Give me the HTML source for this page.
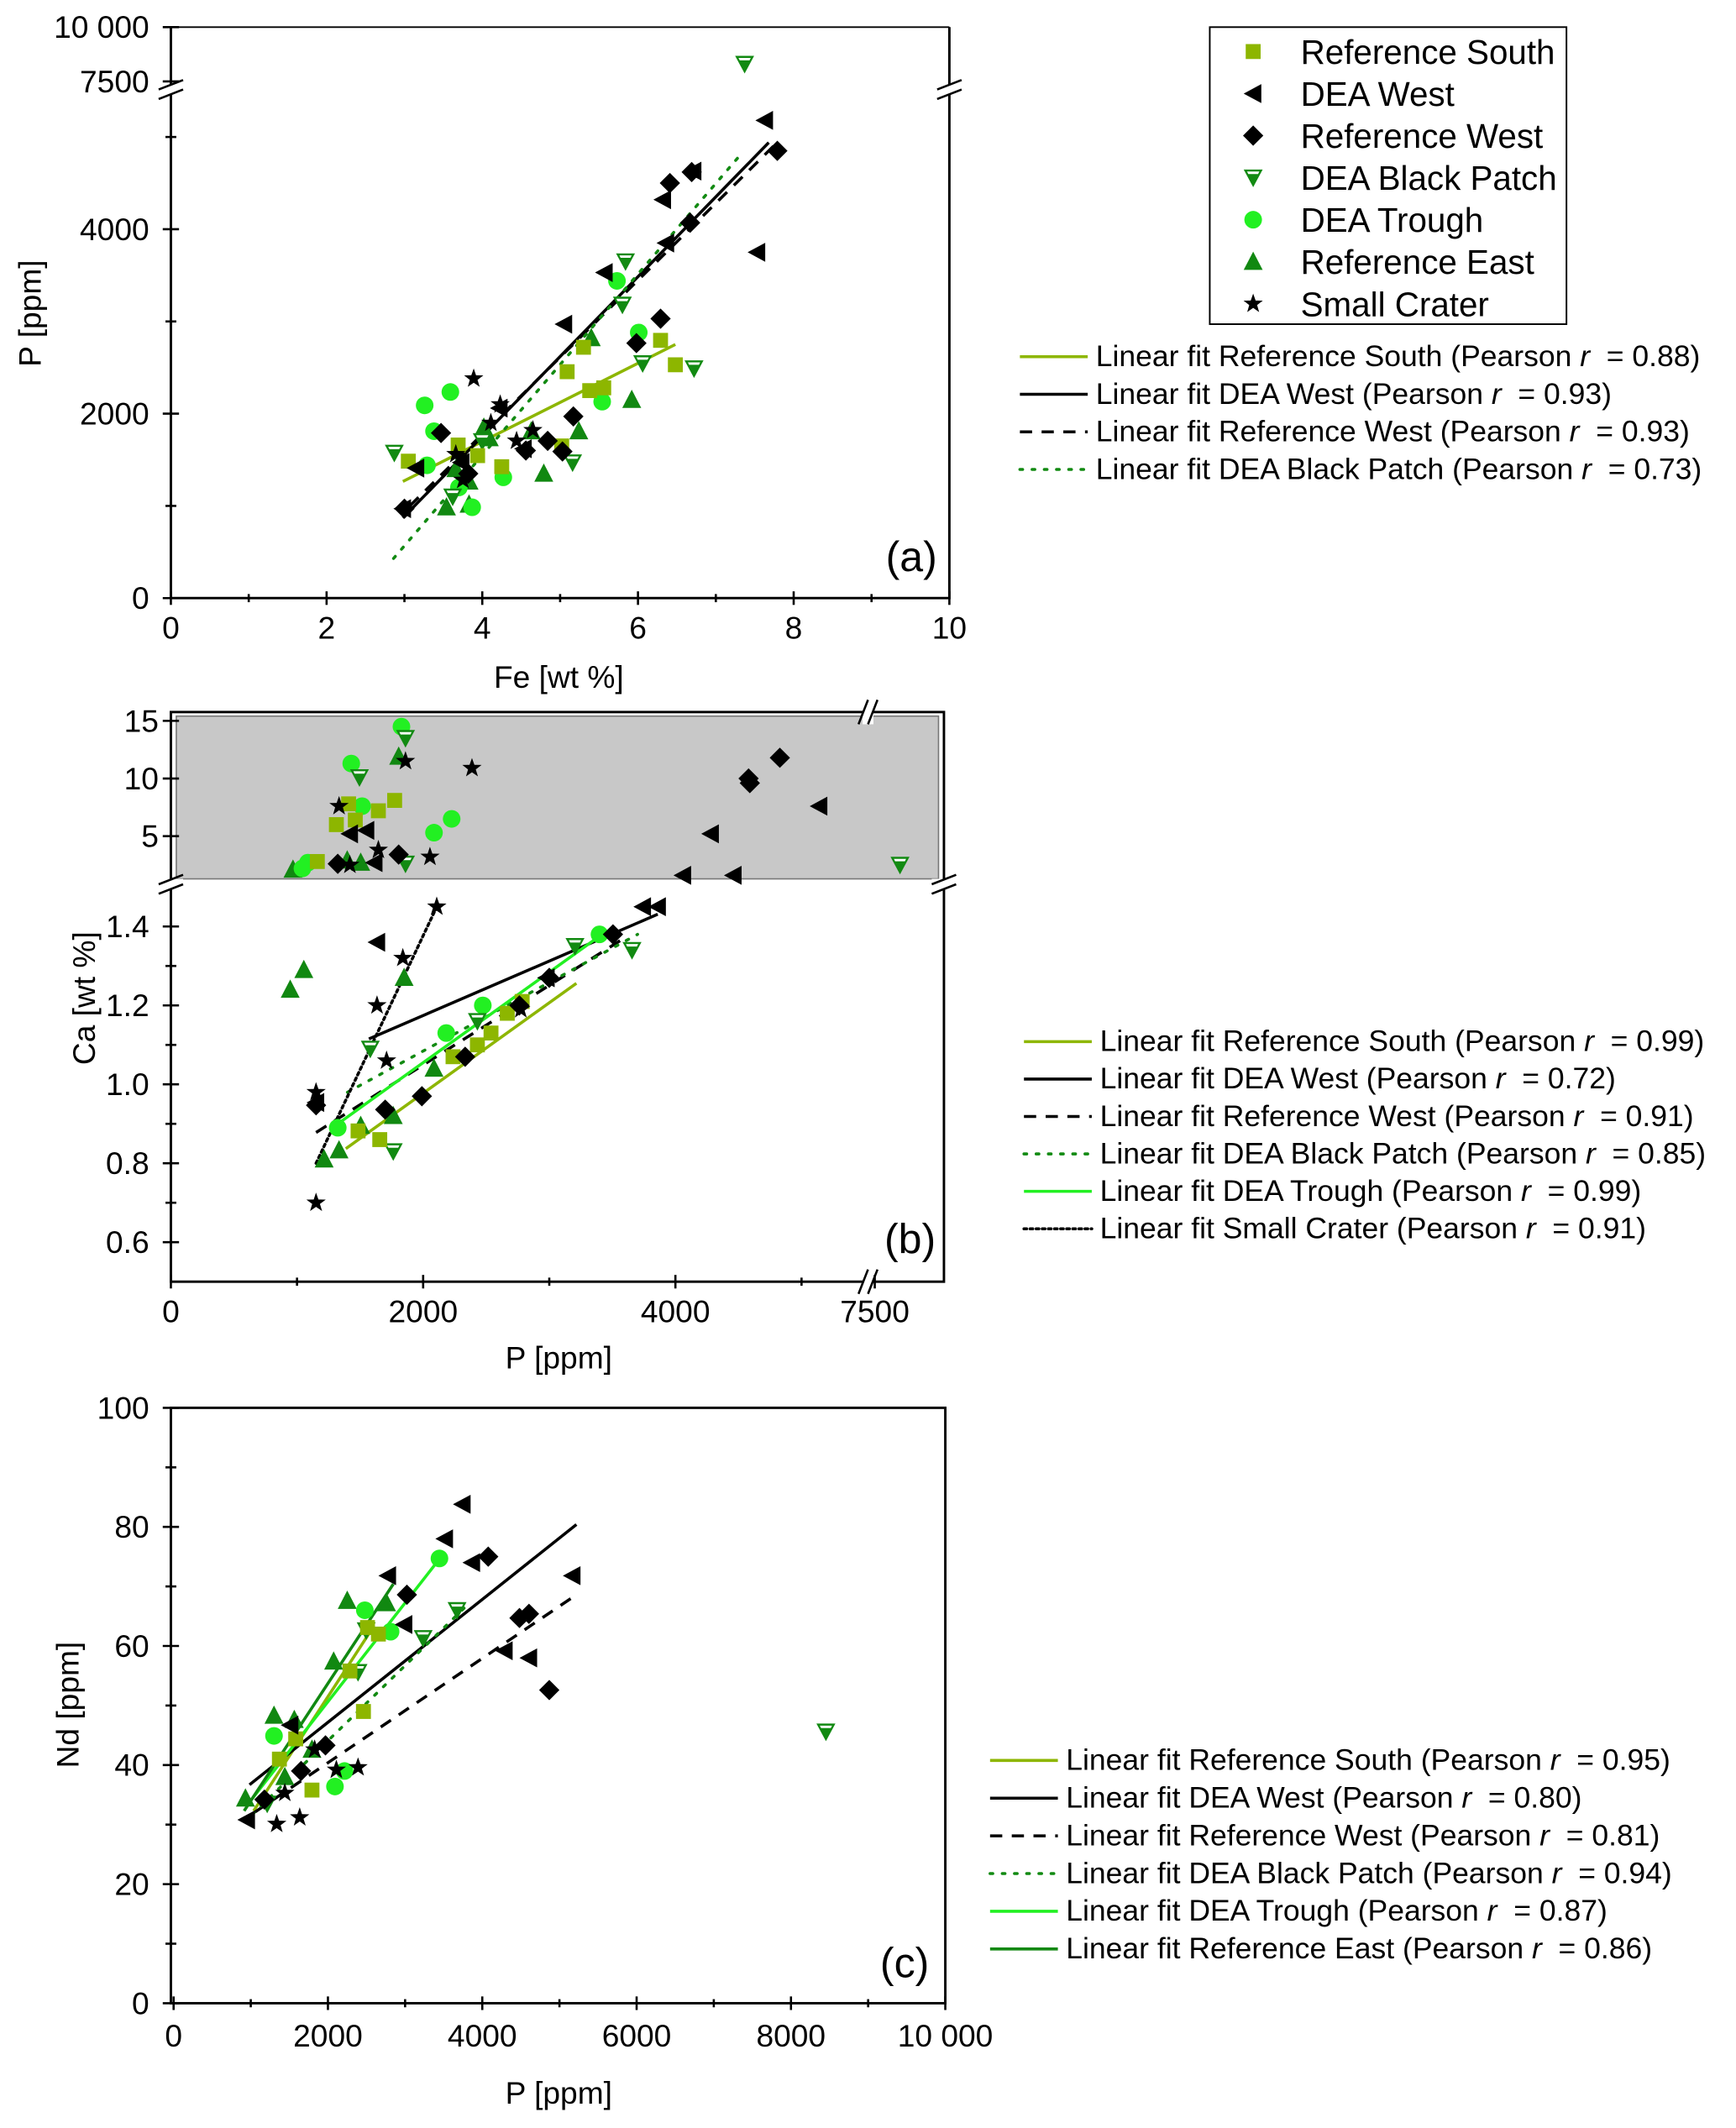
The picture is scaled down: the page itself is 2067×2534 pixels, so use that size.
<!DOCTYPE html>
<html><head><meta charset="utf-8"><style>
html,body{margin:0;padding:0;background:#fff}
svg{display:block}
text{font-family:"Liberation Sans",Arial,sans-serif;fill:#000}
.pre{white-space:pre}
</style></head><body>
<svg id="fig" xmlns="http://www.w3.org/2000/svg" width="2067" height="2534" viewBox="0 0 1280 1569" preserveAspectRatio="none">
<g id="layer"></g>
</svg>
<script>
// ---------- DATA ----------
const seriesNames = ["Reference South","DEA West","Reference West","DEA Black Patch","DEA Trough","Reference East","Small Crater"];
// panel (a): Fe [wt%] vs P [ppm]
const aRS_x=[3.05,3.69,3.94,4.25,5.02,5.09,5.30,5.38,5.56,6.29,6.48];
const aRS_y=[1485,1660,1545,1425,1650,2455,2720,2250,2280,2795,2530];
const aDW_x=[7.63,7.53,6.71,6.32,6.36,5.57,5.05,4.22,4.53,3.73,3.15,2.98];
const aDW_y=[5180,3750,4630,4320,3850,3530,2970,2060,1620,1470,1410,970];
const aRW_x=[7.79,6.69,6.41,6.67,5.98,6.29,5.17,4.84,4.56,3.47,3.82,3.0,5.03];
const aRW_y=[4850,4620,4500,4070,2765,3030,1970,1705,1600,1790,1350,970,1590];
const aBP_x=[7.37,5.84,5.80,6.72,6.06,5.16,2.87,3.62,4.0];
const aBP_y=[8300,3650,3180,2490,2545,1470,1575,1100,1700];
const aTR_x=[5.73,6.01,5.54,3.26,3.59,3.38,4.27,3.29,3.87,3.7];
const aTR_y=[3440,2880,2130,2090,2235,1810,1310,1440,985,1200];
const aRE_x=[5.40,5.92,5.24,4.79,4.09,3.54,3.83,3.66,4.02,4.63,3.83];
const aRE_y=[2820,2150,1810,1350,1735,985,1015,1400,1850,1810,1265];
const aSC_x=[3.89,4.23,4.65,4.44,3.75,4.11,3.66];
const aSC_y=[2380,2100,1820,1705,1280,1900,1560];
const aFitRS=[2.98,1265,6.48,2750];
const aFitDW=[2.98,870,7.68,4940];
const aFitRW=[3.07,1000,7.74,4900];
const aFitBP=[2.86,430,7.35,4840];
const aFitLabels=["Linear fit Reference South (Pearson r  = 0.88)","Linear fit DEA West (Pearson r  = 0.93)","Linear fit Reference West (Pearson r  = 0.93)","Linear fit DEA Black Patch (Pearson r  = 0.73)"];

// panel (b): P [ppm] vs Ca [wt%]
const bRS_x=[1161,1312,1462,1645,1774,1409,1484,1656,2430,2538,2785,2667,2237];
const bRS_y=[2.8,6.0,6.4,7.2,8.1,7.8,0.882,0.86,1.10,1.13,1.21,1.18,1.07];
const bDW_x=[1419,1548,1613,5140,4280,4460,4060,1634,3860,3742,1151,2978];
const bDW_y=[5.2,5.5,2.7,7.6,5.2,1.6,1.6,1.36,1.45,1.45,0.954,1.27];
const bRW_x=[1323,1806,4828,4590,4580,1151,1699,1990,3000,2763,3505,2333];
const bRW_y=[2.6,3.4,11.8,9.6,10.0,0.947,0.936,0.97,1.27,1.20,1.38,1.07];
const bBP_x=[1860,1495,1860,7700,1581,1763,3204,3656,2430];
const bBP_y=[13.5,10.1,2.6,2.5,1.09,0.83,1.35,1.34,1.16];
const bTR_x=[1828,1430,1516,2226,2086,1086,1043,1323,2473,2183,3398];
const bTR_y=[14.5,11.3,7.6,6.5,5.3,2.7,2.2,0.89,1.20,1.13,1.38];
const bRE_x=[1806,968,1398,1505,946,1054,1849,1215,1333,1505,1763,2086];
const bRE_y=[11.9,2.1,2.9,2.7,1.24,1.29,1.27,0.81,0.833,0.895,0.92,1.04];
const bSC_x=[1860,2387,1333,2054,1645,1419,1151,1151,1634,1710,1839,2108,2774];
const bSC_y=[11.5,10.9,7.6,3.2,3.8,2.5,0.70,0.98,1.2,1.06,1.32,1.45,1.19];
const bFitRS=[1387,0.837,3215,1.256];
const bFitDW=[1570,1.115,3860,1.431];
const bFitRW=[1151,0.878,3591,1.37];
const bFitBP=[1400,0.98,3700,1.38];
const bFitTR=[1258,0.885,3462,1.39];
const bFitSC=[1151,0.80,2108,1.45];
const bFitLabels=["Linear fit Reference South (Pearson r  = 0.99)","Linear fit DEA West (Pearson r  = 0.72)","Linear fit Reference West (Pearson r  = 0.91)","Linear fit DEA Black Patch (Pearson r  = 0.85)","Linear fit DEA Trough (Pearson r  = 0.99)","Linear fit Small Crater (Pearson r  = 0.91)"];

// panel (c): P [ppm] vs Nd [ppm]
const cRS_x=[2513,2460,2285,2654,1371,1582,1793];
const cRS_y=[63.1,49,55.8,62,41,44.4,35.8];
const cDW_x=[3743,3515,2777,5167,3866,4288,4605,949,1511,2988];
const cDW_y=[83.8,78,71.8,71.8,74,59.2,58,30.8,46.7,63.6];
const cRW_x=[4077,3023,4482,4605,4868,1968,1652,1177];
const cRW_y=[75,68.6,64.7,65.4,52.6,43.3,39,34.2];
const cBP_x=[8453,3673,3234,2496,2390,1213];
const cBP_y=[45.6,66,61.3,62.6,55.6,33.5];
const cTR_x=[3445,2478,2812,2215,2091,1301];
const cTR_y=[74.7,66,62.4,39,36.4,44.9];
const cRE_x=[2250,2759,2074,1301,1564,931,1793,1441];
const cRE_y=[67.6,67.2,57.4,48.3,47.6,34.4,42.6,38];
const cSC_x=[1336,1634,2390,2109,1828,1441];
const cSC_y=[30.1,31.2,39.6,39.2,42.6,35.3];
const cFitRS=[1037,32.3,2583,63.1];
const cFitDW=[984,36.7,5220,80.4];
const cFitRW=[1054,32.1,5185,68.3];
const cFitBP=[1019,31.7,3831,67.2];
const cFitTR=[967,33.5,3480,75.2];
const cFitRE=[914,32.3,2847,70.4];
const cFitLabels=["Linear fit Reference South (Pearson r  = 0.95)","Linear fit DEA West (Pearson r  = 0.80)","Linear fit Reference West (Pearson r  = 0.81)","Linear fit DEA Black Patch (Pearson r  = 0.94)","Linear fit DEA Trough (Pearson r  = 0.87)","Linear fit Reference East (Pearson r  = 0.86)"];

// ---------- RENDER ----------
const NS="http://www.w3.org/2000/svg";
const root=document.getElementById('layer');
const C={RS:"#8db600",DW:"#000",RW:"#000",BP:"#128a12",TR:"#22f022",RE:"#118811",SC:"#000"};
function el(tag,attrs,parent){const e=document.createElementNS(NS,tag);for(const k in attrs)e.setAttribute(k,attrs[k]);(parent||root).appendChild(e);return e;}
function txt(x,y,s,size,anchor,parent){const t=el('text',{x:x,y:y,'font-size':size,'text-anchor':anchor||'start'},parent);t.textContent=s;return t;}
function marker(kind,x,y,g){
  let e;
  if(kind==="RS"){e=el('rect',{x:x-5.5,y:y-5.5,width:11,height:11,fill:C.RS},g);}
  else if(kind==="DW"){e=el('polygon',{points:`${x-7},${y} ${x+6},${y-7} ${x+6},${y+7}`,fill:"#000"},g);}
  else if(kind==="RW"){e=el('polygon',{points:`${x},${y-7.5} ${x+7.5},${y} ${x},${y+7.5} ${x-7.5},${y}`,fill:"#000"},g);}
  else if(kind==="BP"){e=el('polygon',{points:`${x-7},${y-6} ${x+7},${y-6} ${x},${y+7}`,fill:C.BP},g);
    el('polygon',{points:`${x-4.5},${y-4.5} ${x+4.5},${y-4.5} ${x+3.6},${y-2.7} ${x-3.6},${y-2.7}`,fill:"#fff"},g);}
  else if(kind==="TR"){e=el('circle',{cx:x,cy:y,r:6.5,fill:C.TR},g);}
  else if(kind==="RE"){e=el('polygon',{points:`${x},${y-7.5} ${x+7},${y+6} ${x-7},${y+6}`,fill:C.RE},g);}
  else {let p=[];for(let i=0;i<10;i++){const r=i%2?3:7.5;const a=-Math.PI/2+i*Math.PI/5;p.push((x+r*Math.cos(a)).toFixed(1)+","+(y+r*Math.sin(a)).toFixed(1));}
    e=el('polygon',{points:p.join(" "),fill:"#000"},g);}
  return e;
}
const lineStyle={RS:{stroke:C.RS,dash:null},DW:{stroke:"#000",dash:null},RW:{stroke:"#000",dash:"9,7"},BP:{stroke:C.BP,dash:"2,7"},TR:{stroke:"#22f022",dash:null},RE:{stroke:C.RE,dash:null},SC:{stroke:"#000",dash:"2,2.5"}};
function fitLine(key,f,sx,sy,g){const st=lineStyle[key];const a={x1:sx(f[0]),y1:sy(f[1]),x2:sx(f[2]),y2:sy(f[3]),stroke:st.stroke,'stroke-width':2.2};if(st.dash)a['stroke-dasharray']=st.dash;if(key==="BP"||key==="SC")a['stroke-linecap']='round';return el('line',a,g);}
function breakMark(x,y,g,vertical){
  const gg=el('g',{},g);
  if(vertical){el('rect',{x:x-9,y:y-4,width:18,height:8,fill:"#fff"},gg);
    el('line',{x1:x-9,y1:y,x2:x+9,y2:y-7,stroke:"#000",'stroke-width':1.6},gg);el('line',{x1:x-9,y1:y+7,x2:x+9,y2:y,stroke:"#000",'stroke-width':1.6},gg);}
  else{el('rect',{x:x-4,y:y-9,width:8,height:18,fill:"#fff"},gg);
    el('line',{x1:x-7,y1:y+9,x2:x,y2:y-9,stroke:"#000",'stroke-width':1.6},gg);el('line',{x1:x,y1:y+9,x2:x+7,y2:y-9,stroke:"#000",'stroke-width':1.6},gg);}
  return gg;
}
function tickY(x,y,len,g){return el('line',{x1:x-len,y1:y,x2:x+len,y2:y,stroke:"#000",'stroke-width':1.6},g);}
function tickX(x,y,len,g){return el('line',{x1:x,y1:y-len,x2:x,y2:y+len,stroke:"#000",'stroke-width':1.6},g);}
function drawSeries(g,keys,data,sx,sy){
  keys.forEach(k=>{const gs=el('g',{},g);
    
    
    const xs=data[k][0],ys=data[k][1];
    xs.forEach((v,i)=>{const m=marker(k,sx(v),sy(ys[i]),gs);
      
      });});
}
function fitLegend(x,y0,dy,keys,labels,size,g){
  keys.forEach((k,i)=>{const y=y0+i*dy;const gi=el('g',{},g);
    
    
    fitLine(k,[0,y,1,y],v=>x+v*50,v=>v,gi);
    const parts=labels[i].split(" r ");
    const t=el('text',{x:x+56,y:y+7,'font-size':size,'class':'pre'},gi);
    t.appendChild(document.createTextNode(parts[0]+" "));
    const it=el('tspan',{'font-style':'italic'},t);it.textContent="r";
    t.appendChild(document.createTextNode("  "+parts[1].trim()));
  });
}

// ===== Panel a =====
(function(){
  const g=el('g',{});
  const L=126,R=700,T=20,B=441;
  const sx=v=>L+v*57.4;
  const sy=v=>v<=5500?B-v*0.068:60-(v-7500)*0.016;
  const ax=el('path',{d:`M${L},${T} L${L},${B} L${R},${B} L${R},${T}`,fill:"none",stroke:"#000",'stroke-width':1.8},g);
  
  el('line',{x1:L,y1:T,x2:R,y2:T,stroke:"#000",'stroke-width':1.2},g);
  [0,2,4,6,8,10].forEach(v=>{tickX(sx(v),B,5,g);txt(sx(v),471,String(v),23,'middle',g);});
  [1,3,5,7,9].forEach(v=>tickX(sx(v),B,3,g));
  [0,2000,4000].forEach(v=>{tickY(L,sy(v),6,g);txt(110,sy(v)+8,String(v),23,'end',g);});
  [1000,3000,5000].forEach(v=>tickY(L,sy(v),4,g));
  tickY(L,sy(7500),6,g);txt(110,sy(7500)+8,"7500",23,'end',g);
  tickY(L,sy(10000),6,g);txt(110,sy(10000)+8,"10 000",23,'end',g);
  breakMark(L,66,g,true);breakMark(R,66,g,true);
  const yl=txt(0,0,"P [ppm]",23,'middle',g);yl.setAttribute('transform','translate(30,231) rotate(-90)');
  const xl=txt(412,507,"Fe [wt %]",23,'middle',g);
  txt(672,421,"(a)",31,'middle',g);
  fitLine("RS",aFitRS,sx,sy,g);fitLine("DW",aFitDW,sx,sy,g);fitLine("RW",aFitRW,sx,sy,g);fitLine("BP",aFitBP,sx,sy,g);
  drawSeries(g,["RE","TR","BP","RS","RW","DW","SC"],{RS:[aRS_x,aRS_y],DW:[aDW_x,aDW_y],RW:[aRW_x,aRW_y],BP:[aBP_x,aBP_y],TR:[aTR_x,aTR_y],RE:[aRE_x,aRE_y],SC:[aSC_x,aSC_y]},sx,sy);
  const lg=el('g',{},g);
  el('rect',{x:892,y:20,width:263,height:219,fill:"#fff",stroke:"#000",'stroke-width':1.2},lg);
  ["RS","DW","RW","BP","TR","RE","SC"].forEach((k,i)=>{const y=38+i*31;const gi=el('g',{},lg);
    
    
    marker(k,924,y,gi);txt(959,y+9,seriesNames[i],25,'start',gi);});
  fitLegend(752,263,27.7,["RS","DW","RW","BP"],aFitLabels,22,g);
})();

// ===== Panel b =====
(function(){
  const g=el('g',{});
  const L=126,R=696,T=525,B=945;
  const sx=v=>v<=5500?L+v*0.093:645+(v-7500)*0.093;
  const sy=v=>v<=1.5?799.5-(v-1.0)*291:659-v*8.5;
  el('rect',{x:L+4,y:T+3,width:R-L-8,height:120,fill:"#c8c8c8",stroke:"#777",'stroke-width':1},g);
  el('rect',{x:L,y:T,width:R-L,height:B-T,fill:"none",stroke:"#000",'stroke-width':1.8},g);
  [0,2000,4000].forEach(v=>{tickX(sx(v),B,5,g);txt(sx(v),975,String(v),23,'middle',g);});
  [1000,3000,5000].forEach(v=>tickX(sx(v),B,3,g));
  tickX(sx(7500),B,5,g);txt(sx(7500),975,"7500",23,'middle',g);
  [0.6,0.8,1.0,1.2,1.4].forEach(v=>{tickY(L,sy(v),6,g);txt(110,sy(v)+8,v.toFixed(1),23,'end',g);});
  [0.7,0.9,1.1,1.3].forEach(v=>tickY(L,sy(v),4,g));
  [5,10,15].forEach(v=>{tickY(L,sy(v),6,g);txt(117,sy(v)+8,String(v),23,'end',g);});
  breakMark(L,652,g,true);breakMark(R,652,g,true);breakMark(640,T,g,false);breakMark(640,B,g,false);
  const yl=txt(0,0,"Ca [wt %]",23,'middle',g);yl.setAttribute('transform','translate(70,736) rotate(-90)');
  const xl=txt(412,1009,"P [ppm]",23,'middle',g);
  txt(671,924,"(b)",31,'middle',g);
  fitLine("RS",bFitRS,sx,sy,g);fitLine("DW",bFitDW,sx,sy,g);fitLine("RW",bFitRW,sx,sy,g);fitLine("BP",bFitBP,sx,sy,g);fitLine("TR",bFitTR,sx,sy,g);fitLine("SC",bFitSC,sx,sy,g);
  drawSeries(g,["RE","TR","BP","RS","RW","DW","SC"],{RS:[bRS_x,bRS_y],DW:[bDW_x,bDW_y],RW:[bRW_x,bRW_y],BP:[bBP_x,bBP_y],TR:[bTR_x,bTR_y],RE:[bRE_x,bRE_y],SC:[bSC_x,bSC_y]},sx,sy);
  fitLegend(755,768,27.6,["RS","DW","RW","BP","TR","SC"],bFitLabels,22,g);
})();

// ===== Panel c =====
(function(){
  const g=el('g',{});
  const L=126,R=697,T=1038,B=1477;
  const sx=v=>128+v*0.0569;
  const sy=v=>B-v*4.39;
  el('rect',{x:L,y:T,width:R-L,height:B-T,fill:"none",stroke:"#000",'stroke-width':1.8},g);
  [0,2000,4000,6000,8000].forEach(v=>{tickX(sx(v),B,5,g);txt(sx(v),1509,String(v),23,'middle',g);});
  tickX(sx(10000),B,5,g);txt(sx(10000),1509,"10 000",23,'middle',g);
  [1000,3000,5000,7000,9000].forEach(v=>tickX(sx(v),B,3,g));
  [0,20,40,60,80,100].forEach(v=>{tickY(L,sy(v),6,g);txt(110,sy(v)+8,String(v),23,'end',g);});
  [10,30,50,70,90].forEach(v=>tickY(L,sy(v),4,g));
  const yl=txt(0,0,"Nd [ppm]",23,'middle',g);yl.setAttribute('transform','translate(58,1257) rotate(-90)');
  const xl=txt(412,1551,"P [ppm]",23,'middle',g);
  txt(667,1458,"(c)",31,'middle',g);
  fitLine("RS",cFitRS,sx,sy,g);fitLine("DW",cFitDW,sx,sy,g);fitLine("RW",cFitRW,sx,sy,g);fitLine("BP",cFitBP,sx,sy,g);fitLine("TR",cFitTR,sx,sy,g);fitLine("RE",cFitRE,sx,sy,g);
  drawSeries(g,["RE","TR","BP","RS","RW","DW","SC"],{RS:[cRS_x,cRS_y],DW:[cDW_x,cDW_y],RW:[cRW_x,cRW_y],BP:[cBP_x,cBP_y],TR:[cTR_x,cTR_y],RE:[cRE_x,cRE_y],SC:[cSC_x,cSC_y]},sx,sy);
  fitLegend(730,1298,27.8,["RS","DW","RW","BP","TR","RE"],cFitLabels,22,g);
})();
</script>
</body></html>
